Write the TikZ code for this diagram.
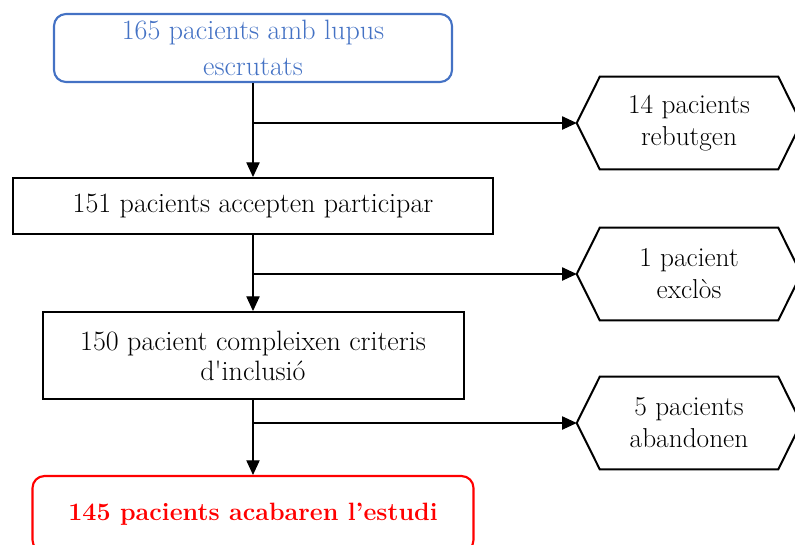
\documentclass[tikz,border=0pt]{standalone}
\usetikzlibrary{arrows.meta,calc}
\definecolor{boxblue}{HTML}{4472C4}
\definecolor{boxred}{HTML}{FF0000}
\begin{document}
\begin{tikzpicture}[x=0.75pt,y=-0.75pt,
  txt/.style={font=\fontsize{21}{24}\selectfont, align=center, inner sep=0pt},
  box/.style={txt, draw, line width=1.5pt},
  hexnode/.style={txt, font=\fontsize{20.5}{24}\selectfont, minimum width=224*0.75pt, minimum height=92*0.75pt},
  hexline/.style={line width=1.5pt, line join=miter},
  conn/.style={line width=0.8pt, -{Triangle[width=10pt,length=11pt]}},
  plain/.style={line width=0.8pt}]
\useasboundingbox (0,0) rectangle (795,544);

\node[box, draw=boxblue, text=boxblue, rounded corners=9pt, line width=1.6pt,
      minimum width=398*0.75pt, minimum height=68*0.75pt,
      font=\fontsize{21}{27.5}\selectfont] (b1) at (253,48) {165 pacients amb lupus\\escrutats};
\node[box, minimum width=480*0.75pt, minimum height=56*0.75pt] (b2) at (253,206) {151 pacients accepten participar};
\node[box, minimum width=421*0.75pt, minimum height=87*0.75pt,
      font=\fontsize{21}{22.5}\selectfont] (b3) at (253,355.5) {150 pacient compleixen criteris\\d\textquotesingle inclusió};
\node[box, draw=boxred, text=boxred, rounded corners=9pt, line width=1.6pt,
      minimum width=441*0.75pt, minimum height=76*0.75pt,
      font=\fontsize{18.8}{24}\selectfont\bfseries] (b4) at (253,514) {145 pacients acabaren l’estudi};

\node[hexnode] (h1) at (689,123) {14 pacients\\rebutgen};
\node[hexnode] (h2) at (689,274) {1 pacient\\exclòs};
\node[hexnode] (h3) at (689,423) {5 pacients\\abandonen};
\foreach \h in {h1,h2,h3}{
  \draw[hexline] (\h.west) -- ([xshift=17.25pt]\h.north west) -- ([xshift=-17.25pt]\h.north east)
    -- (\h.east) -- ([xshift=-17.25pt]\h.south east) -- ([xshift=17.25pt]\h.south west) -- cycle;
}

\coordinate (j1) at (b1.south |- h1.west);
\coordinate (j2) at (b2.south |- h2.west);
\coordinate (j3) at (b3.south |- h3.west);

\draw[conn] (b1.south) -- (b2.north);
\draw[conn] (b2.south) -- (b3.north);
\draw[conn] (b3.south) -- (b4.north);
\draw[conn] (j1) -- (h1.west);
\draw[conn] (j2) -- (h2.west);
\draw[conn] (j3) -- (h3.west);
\end{tikzpicture}
\end{document}
